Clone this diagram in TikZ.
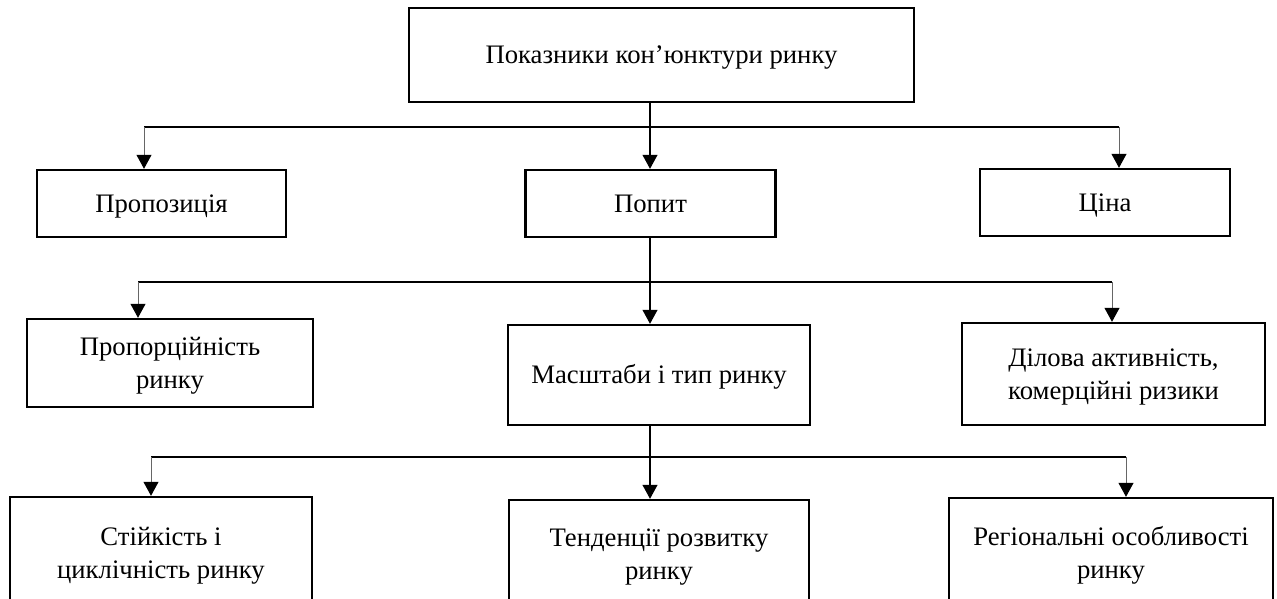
\documentclass[tikz,border=0pt]{standalone}
\usepackage{fontspec}
\setmainfont{Liberation Serif}
\usetikzlibrary{arrows.meta}
\begin{document}
\begin{tikzpicture}[x=1pt,y=-1pt,
  box/.style={draw,line width=2.4pt,inner sep=0pt,align=center,
    font=\fontsize{26.7}{33}\selectfont,text height=17.6pt,text depth=0pt},
  two/.style={text height=50.6pt,text depth=0pt},
  conn/.style={line width=1.1pt},
  arr/.style={line width=1.1pt,-{Triangle[width=15pt,length=14pt]}},
  sidearr/.style={line width=1pt,draw=black!60,-{Triangle[width=15pt,length=14pt,color=black,fill=black]}}]
\useasboundingbox (0,0) rectangle (1277,599);
\clip (0,0) rectangle (1277,599);
\fill[white] (0,0) rectangle (1277,599);
% nodes
\node[box,minimum width=505pt,minimum height=94pt] (top) at (661.5,55) {Показники кон’юнктури ринку};
\node[box,minimum width=249pt,minimum height=67pt] (prop) at (161.5,203.5) {Пропозиція};
\node[box,minimum width=250pt,minimum height=67pt] (popyt) at (650.5,203.5) {Попит};
\node[box,minimum width=250pt,minimum height=67pt] (tsina) at (1105,202.5) {Ціна};
\node[box,two,minimum width=286pt,minimum height=88pt] (proporc) at (170,363) {Пропорційність\\ринку};
\node[box,minimum width=302pt,minimum height=100pt] (masht) at (659,375) {Масштаби і тип ринку};
\node[box,two,minimum width=303pt,minimum height=102pt] (dilova) at (1113.5,374) {Ділова активність,\\комерційні ризики};
\node[box,two,minimum width=302pt,minimum height=112pt] (stiyk) at (161,553) {Стійкість і\\циклічність ринку};
\node[box,two,minimum width=300pt,minimum height=109pt] (tend) at (659,554.5) {Тенденції розвитку\\ринку};
\node[box,two,minimum width=324pt,minimum height=111pt] (reg) at (1111,553.5) {Регіональні особливості\\ринку};
% level 1 connectors
\coordinate (l1a) at (144,127);
\coordinate (l1b) at (1119,127);
\coordinate (c1) at (650,127);
\draw[conn] (l1a) -- (l1b);
\draw[arr] (c1 |- top.south) -- (c1 |- popyt.north);
\draw[sidearr] (l1a) -- (l1a |- prop.north);
\draw[sidearr] (l1b) -- (l1b |- tsina.north);
% level 2 connectors
\coordinate (l2a) at (138,282);
\coordinate (l2b) at (1112,282);
\draw[conn] (l2a) -- (l2b);
\draw[arr] (c1 |- popyt.south) -- (c1 |- masht.north);
\draw[sidearr] (l2a) -- (l2a |- proporc.north);
\draw[sidearr] (l2b) -- (l2b |- dilova.north);
% level 3 connectors
\coordinate (l3a) at (151,457);
\coordinate (l3b) at (1126,457);
\draw[conn] (l3a) -- (l3b);
\draw[arr] (c1 |- masht.south) -- (c1 |- tend.north);
\draw[sidearr] (l3a) -- (l3a |- stiyk.north);
\draw[sidearr] (l3b) -- (l3b |- reg.north);
\end{tikzpicture}
\end{document}
